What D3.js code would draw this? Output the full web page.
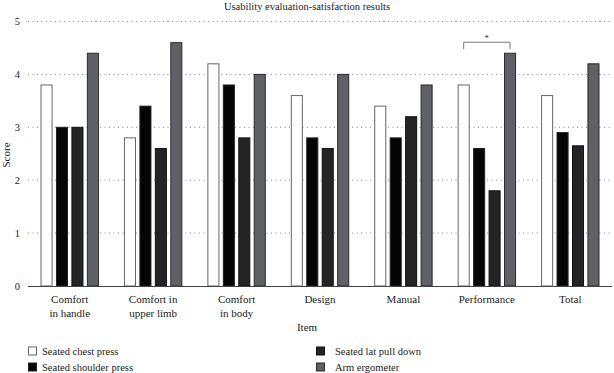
<!DOCTYPE html>
<html><head><meta charset="utf-8">
<script src="https://cdn.jsdelivr.net/npm/d3@7"></script>
<style>body{margin:0;background:#fff}svg{display:block}text{font-family:"Liberation Serif","DejaVu Serif",serif;fill:#222}</style>
</head><body><svg id="c" width="614" height="373"></svg>
<script>
const categories = ["Comfort\nin handle","Comfort in\nupper limb","Comfort\nin body","Design","Manual","Performance","Total"];
const seriesNames = ["Seated chest press","Seated shoulder press","Seated lat pull down","Arm ergometer"];
const seatedChestPress    = [3.8, 2.8, 4.2, 3.6, 3.4, 3.8, 3.6];
const seatedShoulderPress = [3.0, 3.4, 3.8, 2.8, 2.8, 2.6, 2.9];
const seatedLatPullDown   = [3.0, 2.6, 2.8, 2.6, 3.2, 1.8, 2.65];
const armErgometer        = [4.4, 4.6, 4.0, 4.0, 3.8, 4.4, 4.2];
const yTicks = [0,1,2,3,4,5];
const series = [seatedChestPress, seatedShoulderPress, seatedLatPullDown, armErgometer];
const fills = ["#ffffff","#050505","#242424","#606166"];
const strokes = ["#666","#222","#111","#2a2a2a"];

const svg = d3.select("#c");
const x0 = d3.scaleBand().domain(d3.range(categories.length)).range([28,612]).paddingInner(0.3).paddingOuter(0.15);
const x1 = d3.scaleBand().domain(d3.range(series.length)).range([0,x0.bandwidth()]).paddingInner(0.22);
const y = d3.scaleLinear().domain([0,5]).range([286,21.5]);

svg.append("text").attr("x",307).attr("y",10).attr("text-anchor","middle").attr("font-size",10.5).text("Usability evaluation-satisfaction results");

// grid
svg.append("g").selectAll("line").data(yTicks.filter(d=>d>0)).join("line")
  .attr("x1",28).attr("x2",612).attr("y1",d=>y(d)).attr("y2",d=>y(d))
  .attr("stroke","#8a8a8a").attr("stroke-width",1).attr("stroke-dasharray","1,3.5");
const yAxis = svg.append("g").attr("transform","translate(28,0)")
  .call(d3.axisLeft(y).tickValues(yTicks).tickFormat(d3.format("d")).tickSize(0).tickPadding(8));
yAxis.select(".domain").remove();
yAxis.selectAll("text").attr("font-size",10.5).attr("font-family","Liberation Serif, serif").attr("fill","#222");

// bars
const groups = svg.append("g").selectAll("g").data(categories).join("g")
  .attr("transform",(d,i)=>`translate(${x0(i)},0)`);
groups.selectAll("rect").data((d,i)=>series.map((s,k)=>({k,v:s[i]}))).join("rect")
  .attr("x",d=>x1(d.k)+0.5).attr("y",d=>y(d.v)).attr("width",x1.bandwidth()-1).attr("height",d=>y(0)-y(d.v))
  .attr("fill",d=>fills[d.k]).attr("stroke",d=>strokes[d.k]).attr("stroke-width",1);

// baseline
svg.append("line").attr("x1",28).attr("x2",612).attr("y1",y(0)+0.5).attr("y2",y(0)+0.5).attr("stroke","#444").attr("stroke-width",1);

// x labels
const xl = svg.append("g");
categories.forEach((c,i)=>{
  const t = xl.append("text").attr("x",x0(i)+x0.bandwidth()/2).attr("y",303).attr("text-anchor","middle").attr("font-size",11);
  c.split("\n").forEach((ln,j)=>t.append("tspan").attr("x",x0(i)+x0.bandwidth()/2).attr("dy",j?13.5:0).text(ln));
});
svg.append("text").attr("x",307).attr("y",331).attr("text-anchor","middle").attr("font-size",11).text("Item");
svg.append("text").attr("transform","translate(10,155) rotate(-90)").attr("text-anchor","middle").attr("font-size",11).text("Score");

// significance bracket on Performance
const pi = 5;
const bx1 = x0(pi)+x1(0)+x1.bandwidth()/2, bx2 = x0(pi)+x1(3)+x1.bandwidth()/2;
const by = y(4.4)-11;
svg.append("path").attr("d",`M${bx1},${by+7}V${by}H${bx2}V${by+7}`).attr("fill","none").attr("stroke","#777").attr("stroke-width",1);
svg.append("text").attr("x",(bx1+bx2)/2).attr("y",by-1.5).attr("text-anchor","middle").attr("font-size",8).attr("fill","#777").text("*");

// legend
const legPos = [[28,351],[28,367],[316,351],[316,367]];
seriesNames.forEach((n,k)=>{
  const [lx,ly] = legPos[k];
  svg.append("rect").attr("x",lx+0.5).attr("y",ly-4).attr("width",8).attr("height",8).attr("fill",fills[k]).attr("stroke",strokes[k]);
  svg.append("text").attr("x",lx+(k<2?14:19)).attr("y",ly+3.5).attr("font-size",10.5).text(n);
});
</script></body></html>
